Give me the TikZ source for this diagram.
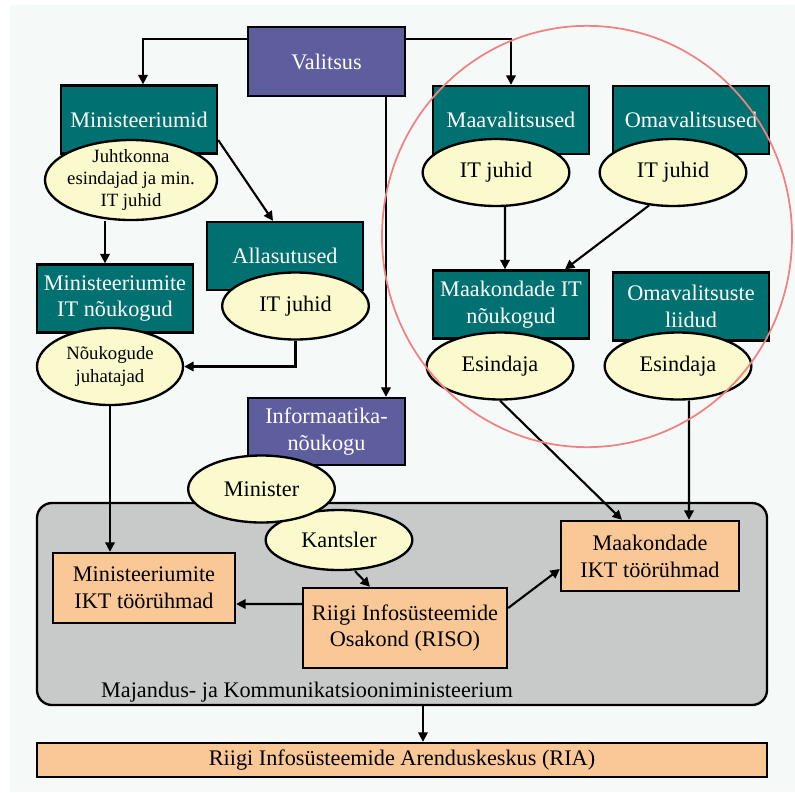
\documentclass[tikz,border=0pt]{standalone}
\usepackage{fontspec}
\setmainfont{Liberation Serif}
\usetikzlibrary{shapes.geometric,arrows.meta}

\definecolor{govblue}{RGB}{94,94,158}
\definecolor{orgteal}{RGB}{0,112,112}
\definecolor{ovalyellow}{RGB}{250,250,205}
\definecolor{wgorange}{RGB}{250,200,150}
\definecolor{mkmgray}{RGB}{200,202,202}
\definecolor{bgpale}{RGB}{245,250,248}
\definecolor{ringred}{RGB}{240,130,130}

\newcommand{\boxfont}{\fontsize{19}{23}\selectfont}
\newcommand{\ovalfont}{\fontsize{19}{20}\selectfont}
\newcommand{\smallovalfont}{\fontsize{16}{19}\selectfont}

\begin{document}
\begin{tikzpicture}[x=0.3mm,y=-0.3mm,
    govbox/.style={draw, line width=2pt, fill=govblue, text=white, font=\boxfont, align=center, minimum width=47.1mm, minimum height=20.4mm},
    orgbox/.style={draw, line width=2pt, fill=orgteal, text=white, font=\boxfont, align=center, minimum width=46.8mm, minimum height=20.4mm},
    itoval/.style={draw, ellipse, line width=2pt, fill=ovalyellow, font=\ovalfont, align=center, inner sep=0pt, minimum width=44mm, minimum height=20.1mm},
    wgbox/.style={draw, line width=2pt, fill=wgorange, font=\boxfont, align=center},
    link/.style={line width=1.8pt, -{Triangle[length=8pt,width=8pt]}}]
        % Background
        \fill[white] (0,0) rectangle (795,792);
        \fill[bgpale] (10,5) rectangle (795,792);

        % Ministry frame
        \node[draw, line width=2pt, fill=mkmgray, rounded corners=4.5mm, minimum width=219mm, minimum height=60.6mm] (mkm) at (402,604) {};
        \node[anchor=west, font=\boxfont] (mkmname) at (97,692) {Majandus- ja Kommunikatsiooniministeerium};

        % Government
        \node[govbox, minimum height=20.7mm] (valitsus) at (326.5,61.5) {Valitsus};
        \node[govbox, minimum height=20.1mm] (info) at (326.5,431.5) {Informaatika-\\nõukogu};

        % Ministries
        \node[orgbox] (min) at (139,119.5) {Ministeeriumid};
        \node[itoval, font=\smallovalfont, inner sep=-1.2mm, minimum width=51.6mm, minimum height=24mm] (juht) at (131,180) {Juhtkonna\\esindajad ja min.\\IT juhid};
        \node[orgbox] (minit) at (115,298.5) {Ministeeriumite\\IT nõukogud};
        \node[itoval, font=\smallovalfont, minimum width=43.8mm, minimum height=23.1mm] (juhat) at (110,366.5) {Nõukogude\\juhatajad};
        \node[orgbox] (alla) at (285,256) {Allasutused};
        \node[itoval] (allait) at (295.5,306) {IT juhid};

        % Counties and municipalities
        \node[orgbox] (maav) at (511,120) {Maavalitsused};
        \node[itoval] (maavit) at (496,172.5) {IT juhid};
        \node[orgbox] (omav) at (691,120) {Omavalitsused};
        \node[itoval] (omavit) at (673,172.5) {IT juhid};
        \node[orgbox] (maakit) at (511,304.5) {Maakondade IT\\nõukogud};
        \node[itoval] (esi1) at (500,366) {Esindaja};
        \node[orgbox] (omavl) at (691,306.5) {Omavalitsuste\\liidud};
        \node[itoval] (esi2) at (678,366) {Esindaja};

        % Minister and chancellor
        \node[itoval, minimum height=18mm] (kantsler) at (339,540) {Kantsler};
        \node[itoval] (minister) at (261.5,489) {Minister};

        % Work groups
        \node[wgbox, minimum width=54.6mm, minimum height=21mm] (mikt) at (144,588) {Ministeeriumite\\IKT töörühmad};
        \node[wgbox, minimum width=61.2mm, minimum height=24mm] (riso) at (405,628) {Riigi Infosüsteemide\\Osakond (RISO)};
        \node[wgbox, minimum width=53.4mm, minimum height=21mm] (maakikt) at (650,556) {Maakondade\\IKT töörühmad};
        \node[wgbox, inner ysep=1pt, minimum width=219mm, minimum height=10.2mm] (ria) at (402,760) {Riigi Infosüsteemide Arenduskeskus (RIA)};

        % Links from Valitsus
        \draw[link] ([yshift=-3.9mm]valitsus.north west) -| ([xshift=1.2mm]min.north);
        \draw[link] ([yshift=-3.9mm]valitsus.north east) -| (maav.north);
        \draw[link] ([xshift=17.85mm]valitsus.south) -- ([xshift=17.85mm]info.north);

        % Ministry side
        \draw[link] ([yshift=-6.15mm]min.east) -- ([xshift=-3.6mm]alla.north);
        \path ([xshift=-7.8mm]juht.south) coordinate (juhtout);
        \draw[link] (juhtout) -- (juhtout |- minit.north);
        \draw[link] (allait.south) |- (juhat.east);
        \draw[link] (juhat.south) -- (juhat.south |- mikt.north);

        % County side
        \draw[link] ([xshift=2.7mm]maavit.south) -- ([xshift=-1.8mm]maakit.north);
        \draw[link] (omavit.234) -- ([xshift=16.2mm]maakit.north);
        \draw[link] (esi1.south) -- ([xshift=-8.4mm]maakikt.north);
        \draw[link] ([xshift=3.3mm]esi2.south) -- ([xshift=11.7mm]maakikt.north);

        % Inside the ministry
        \draw[link] ([xshift=4.8mm]kantsler.south) -- ([xshift=-10.5mm]riso.north);
        \draw[link] ([yshift=7.2mm]riso.west) -- ([yshift=-4.8mm]mikt.east);
        \draw[link] ([yshift=6mm]riso.east) -- ([yshift=-3.9mm]maakikt.west);
        \draw[link] ([xshift=6.3mm]mkm.south) -- ([xshift=6.3mm]ria.north);

        % County circle
        \draw[ringred, line width=1.5pt] (587,236.5) ellipse [x radius=61.5mm, y radius=63.2mm];
\end{tikzpicture}
\end{document}
